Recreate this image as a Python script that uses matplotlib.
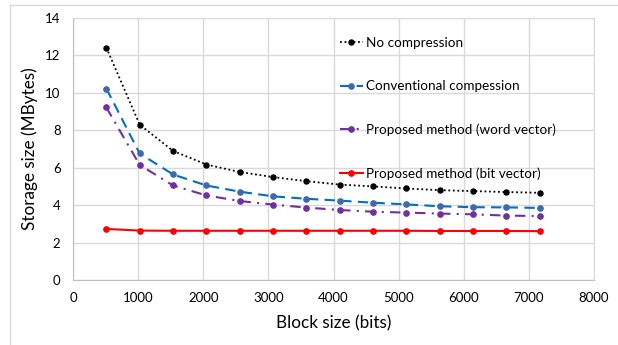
import matplotlib
matplotlib.use('Agg')
import matplotlib.pyplot as plt
from matplotlib.lines import Line2D

# 글꼴 설정
plt.rcParams['font.family'] = ['Lato', 'DejaVu Sans']

# 데이터
block_size = [512, 1024, 1536, 2048, 2560, 3072, 3584, 4096, 4608, 5120, 5632, 6144, 6656, 7168]
no_compression = [12.42, 8.3, 6.9, 6.17, 5.77, 5.5, 5.28, 5.1, 5.0, 4.89, 4.8, 4.75, 4.7, 4.66]
conventional = [10.23, 6.76, 5.64, 5.05, 4.72, 4.47, 4.34, 4.24, 4.13, 4.04, 3.94, 3.89, 3.88, 3.85]
word_vector = [9.22, 6.15, 5.05, 4.52, 4.22, 4.03, 3.87, 3.74, 3.65, 3.6, 3.55, 3.51, 3.44, 3.42]
bit_vector = [2.73, 2.64, 2.63, 2.63, 2.63, 2.63, 2.63, 2.63, 2.63, 2.63, 2.62, 2.62, 2.62, 2.61]

labels = ['No compression', 'Conventional compession',
          'Proposed method (word vector)', 'Proposed method (bit vector)']

fig = plt.figure(figsize=(6.18, 3.45), dpi=100)
ax = fig.add_axes([73 / 618, 1 - 280 / 345, (594 - 73) / 618, (280 - 18) / 345])

ax.plot(block_size, no_compression, color='black', linestyle=(0, (1, 1.5)), linewidth=1.3,
        marker='o', markersize=3.6, label=labels[0])
ax.plot(block_size, conventional, color='#0070C0', linestyle=(0, (5, 3)), linewidth=1.5,
        marker='o', markersize=3.8, markerfacecolor='#4068B0', markeredgecolor='#4068B0',
        label=labels[1])
ax.plot(block_size, word_vector, color='#7030A0', linestyle=(0, (5, 3, 1, 3)), linewidth=1.5,
        marker='o', markersize=3.8, label=labels[2])
ax.plot(block_size, bit_vector, color='#FF0000', linestyle='-', linewidth=1.5,
        marker='o', markersize=3.8, label=labels[3])

ax.set_xlim(0, 8000)
ax.set_ylim(0, 14)
ax.set_xticks(range(0, 8001, 1000))
ax.set_yticks(range(0, 15, 2))
ax.grid(True, color='#d9d9d9', linewidth=1.0)
ax.set_axisbelow(True)
for s in ax.spines.values():
    s.set_color('#d9d9d9')
ax.spines['left'].set_color('#bfbfbf')
ax.spines['bottom'].set_color('#bfbfbf')
ax.tick_params(length=0, labelsize=9.5, colors='#000000', pad=9)

ax.set_xlabel('Block size (bits)', fontsize=12.3, labelpad=8)
ax.set_ylabel('Storage size (MBytes)', fontsize=12.3, labelpad=5)

leg = ax.legend(loc='upper left', bbox_to_anchor=(340 / 618, 1 - 37 / 345),
                bbox_transform=fig.transFigure, frameon=False, fontsize=9.7,
                labelspacing=2.32, handlelength=1.7, handletextpad=0.2,
                borderpad=0, borderaxespad=0)

# 차트 영역 테두리 (위, 왼쪽)
fig.add_artist(Line2D([10 / 618, 1], [1 - 5 / 345, 1 - 5 / 345], transform=fig.transFigure,
                      color='#d9d9d9', linewidth=1.0))
fig.add_artist(Line2D([10 / 618, 10 / 618], [0, 1 - 5 / 345], transform=fig.transFigure,
                      color='#d9d9d9', linewidth=1.0))

fig.savefig('out.png', dpi=100, facecolor='white')
